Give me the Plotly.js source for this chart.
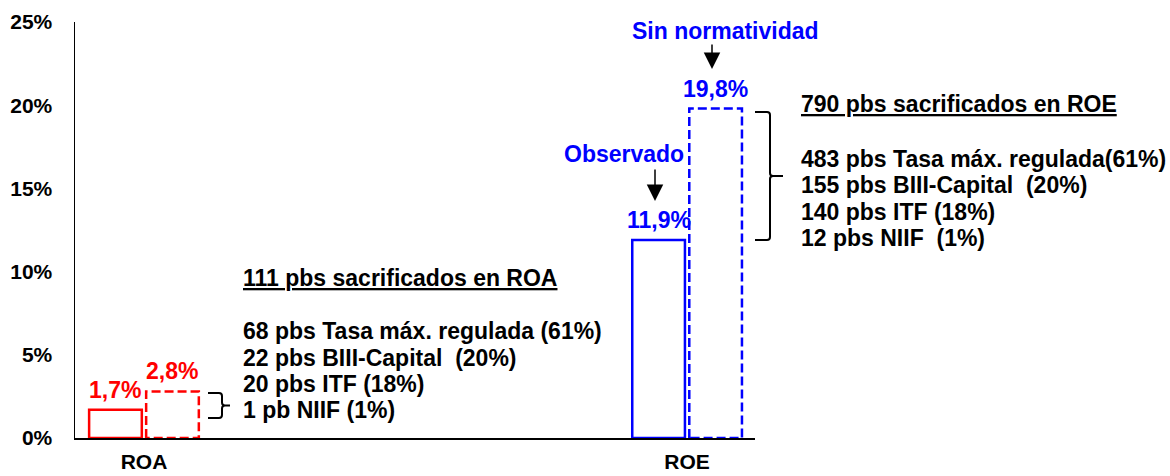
<!DOCTYPE html>
<html>
<head>
<meta charset="utf-8">
<script src="https://cdn.plot.ly/plotly-3.0.1.min.js"></script>
<style>html,body{margin:0;padding:0;background:#fff}#chart{width:1170px;height:476px}</style>
</head>
<body>
<div id="chart"></div>
<script>
// ---- data ----
const categories = ['ROA', 'ROE'];
const observado = [1.7, 11.9];
const sinNormatividad = [2.8, 19.8];
const yTickVals = [0, 5, 10, 15, 20, 25];
const yTickText = ['0%', '5%', '10%', '15%', '20%', '25%'];
const roaNotes = ['111 pbs sacrificados en ROA', '68 pbs Tasa máx. regulada (61%)', '22 pbs BIII-Capital  (20%)', '20 pbs ITF (18%)', '1 pb NIIF (1%)'];
const roeNotes = ['790 pbs sacrificados en ROE', '483 pbs Tasa máx. regulada(61%)', '155 pbs BIII-Capital  (20%)', '140 pbs ITF (18%)', '12 pbs NIIF  (1%)'];
const seriesNames = ['Observado', 'Sin normatividad'];

// ---- styles / layout positions ----
const catColors = ['#FF0000', '#0000FF'];
const FONT = 'Liberation Sans, Arial, sans-serif';
const FS = 23;
const L = 75, R = 755, T = 22, B = 438, W = 1170, H = 476;
const px = x => (x - L) / (R - L);
const py = y => (B - y) / (B - T);
const BW = 0.097, OFF_OBS = -0.101, OFF_SIN = 0.004;
const xIdx = categories.map((c, i) => i);
const fmt = v => v.toFixed(1).replace('.', ',') + '%';
const roaLineY = [277.5, 330.5, 357.5, 384, 409.5];
const roeLineY = [103.5, 158.5, 185, 211.5, 237.5];

const traces = [];
traces.push({
  type: 'bar', name: seriesNames[0], x: xIdx, y: observado,
  width: BW, offset: OFF_OBS,
  marker: {color: 'rgba(0,0,0,0)', line: {color: catColors, width: 2.5}},
  hoverinfo: 'y', showlegend: false
});
traces.push({
  type: 'bar', name: seriesNames[1], x: xIdx, y: sinNormatividad,
  width: BW, offset: OFF_SIN,
  marker: {color: 'rgba(0,0,0,0)', line: {width: 0}},
  hoverinfo: 'y', showlegend: false
});
// dashed outlines for "Sin normatividad"
sinNormatividad.forEach((v, i) => {
  const x0 = i + OFF_SIN, x1 = i + OFF_SIN + BW;
  traces.push({
    type: 'scatter', mode: 'lines', showlegend: false, hoverinfo: 'skip',
    x: [x0, x0, x1, x1, x0], y: [0, v, v, 0, 0],
    line: {color: catColors[i], width: 2.5, dash: '9px,4px'}
  });
});

const annotations = [];
observado.forEach((v, i) => annotations.push({
  x: i + OFF_OBS + BW / 2, y: v, xref: 'x', yref: 'y', xanchor: 'center', yanchor: 'middle', yshift: 20,
  text: '<b>' + fmt(v) + '</b>', showarrow: false, font: {family: FONT, size: FS, color: catColors[i]}
}));
sinNormatividad.forEach((v, i) => annotations.push({
  x: i + OFF_SIN + BW / 2, y: v, xref: 'x', yref: 'y', xanchor: 'center', yanchor: 'middle', yshift: 20,
  text: '<b>' + fmt(v) + '</b>', showarrow: false, font: {family: FONT, size: FS, color: catColors[i]}
}));
// series labels
annotations.push({x: px(624), y: py(154), xref: 'paper', yref: 'paper', xanchor: 'center', yanchor: 'middle',
  text: '<b>' + seriesNames[0] + '</b>', showarrow: false, font: {family: FONT, size: FS, color: catColors[1]}});
annotations.push({x: px(725), y: py(31), xref: 'paper', yref: 'paper', xanchor: 'center', yanchor: 'middle',
  text: '<b>' + seriesNames[1] + '</b>', showarrow: false, font: {family: FONT, size: FS, color: catColors[1]}});
// arrows
[[655, 168, 201], [712, 43, 69]].forEach(a => annotations.push({
  x: px(a[0]), y: py(a[2]), xref: 'paper', yref: 'paper', ax: 0, ay: -(a[2] - a[1]),
  text: '', showarrow: true, arrowhead: 2, arrowsize: 2.2, arrowwidth: 1.5, arrowcolor: '#000'
}));
// note blocks (one annotation per line)
function addBlock(lines, x, ys) {
  lines.forEach((s, k) => annotations.push({
    x: px(x), y: py(ys[k]), xref: 'paper', yref: 'paper', xanchor: 'left', yanchor: 'middle', align: 'left',
    text: k === 0 ? '<b><u>' + s + '</u></b>' : '<b>' + s + '</b>',
    showarrow: false, font: {family: FONT, size: FS, color: '#000'}
  }));
}
addBlock(roaNotes, 241, roaLineY);
addBlock(roeNotes, 799, roeLineY);

// braces
function brace(xl, xv, xt, yt, yb) {
  const ym = (yt + yb) / 2, r = 3;
  const P = (x, y) => px(x).toFixed(5) + ',' + py(y).toFixed(5);
  return 'M' + P(xl, yt) + ' L' + P(xv - r, yt) + ' Q' + P(xv, yt) + ' ' + P(xv, yt + r) +
    ' L' + P(xv, ym - r) + ' Q' + P(xv, ym) + ' ' + P(xv + r, ym) + ' L' + P(xt, ym) +
    ' M' + P(xv + r, ym) + ' Q' + P(xv, ym) + ' ' + P(xv, ym + r) +
    ' L' + P(xv, yb - r) + ' Q' + P(xv, yb) + ' ' + P(xv - r, yb) + ' L' + P(xl, yb);
}
const shapes = [
  {type: 'path', xref: 'paper', yref: 'paper', path: brace(755, 770, 783, 112, 240), line: {color: '#000', width: 2}},
  {type: 'path', xref: 'paper', yref: 'paper', path: brace(208, 222, 230, 393, 418), line: {color: '#000', width: 2}}
];

const layout = {
  width: W, height: H,
  margin: {l: L, r: W - R, t: T, b: H - B, pad: 0},
  paper_bgcolor: '#fff', plot_bgcolor: '#fff',
  barmode: 'overlay', showlegend: false,
  font: {family: FONT, size: FS, color: '#000'},
  xaxis: {
    range: [-0.127, 1.125], tickvals: xIdx, ticktext: categories.map(c => '<b>' + c + '</b>'),
    showgrid: false, zeroline: false, showline: true, linecolor: '#000', linewidth: 1.5,
    ticks: 'outside', ticklen: 4, tickcolor: 'rgba(0,0,0,0)', tickfont: {family: FONT, size: 21, color: '#000'},
    fixedrange: true
  },
  yaxis: {
    range: [0, 25], tickvals: yTickVals, ticktext: yTickText.map(t => '<b>' + t + '</b>'),
    showgrid: false, zeroline: false, showline: true, linecolor: '#000', linewidth: 1.5,
    ticks: 'outside', ticklen: 17, tickcolor: 'rgba(0,0,0,0)', tickfont: {family: FONT, size: 21, color: '#000'},
    fixedrange: true
  },
  annotations: annotations,
  shapes: shapes
};

Plotly.newPlot('chart', traces, layout, {displayModeBar: false, staticPlot: true});
</script>
</body>
</html>
